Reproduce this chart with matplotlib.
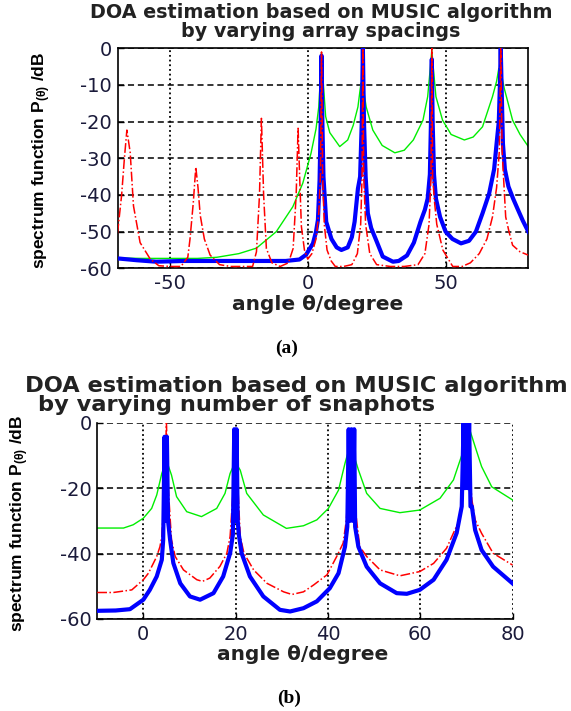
import matplotlib
matplotlib.use('Agg')
import matplotlib.pyplot as plt

# ---- (a) varying array spacings ----
a_green_x = [-69, -60, -50, -40, -33, -25, -18.6, -11.4, -5.4, -1.8, 1.2, 3.0, 4.0, 4.6, 5.0, 5.5, 6.5, 8.0,
             11.6, 14.5, 16.5, 18.2, 19.3, 20.2, 21.2, 23.6, 27, 31.6, 35, 38.3, 41.8, 43.5, 44.5, 45.0, 45.5,
             46.5, 48.9, 52, 56.8, 60, 63.4, 67.0, 68.5, 69.3, 70.5, 71.3, 74.3, 77, 80]
a_green_y = [-57.2, -57.3, -57.3, -57.3, -57.0, -56.0, -54.5, -50.0, -43.2, -36.8, -28.6, -22, -16, -8, -1.2,
             -8, -18.6, -23, -26.8, -25, -21, -16, -9.5, -11, -16, -22.3, -26.5, -28.5, -27.8, -25, -19.6,
             -13.2, -5, -0.5, -5, -13.2, -19.6, -23.5, -25, -24.2, -21.4, -13.2, -9, -5.5, -8, -11, -19.6,
             -23.5, -26.8]

a_blue_x = [-69, -62, -55, -45, -35, -25, -15, -8, -3, -0.6, 1.9, 3.0, 3.7, 4.3, 4.7, 5.0, 5.3, 5.7, 6.7,
            8.6, 10.5, 12.2, 14.5, 16.0, 17.0, 18.2, 19.0, 19.6, 20.0, 20.4, 21.0, 21.8, 23.0, 24.8, 27.2,
            30.9, 33, 36, 38.5, 40.9, 42.5, 43.5, 44.3, 44.7, 45.0, 45.3, 45.8, 46.5, 48, 50, 52.5, 55.6,
            58.5, 61, 63.4, 65.8, 67.6, 68.5, 69.3, 69.7, 70.0, 70.3, 70.8, 71.5, 72.8, 74.5, 76.0, 78, 80]
a_blue_y = [-57.3, -57.8, -58.2, -58.0, -58.0, -58.0, -58.0, -58.0, -57.6, -56.3, -53.2, -50, -46.8, -35.9,
            -20, -2, -20, -35, -47.3, -52, -54.3, -55, -54.3, -51.5, -47.3, -38.3, -35, -20, 0, -20, -35,
            -45, -49, -52.3, -56.8, -58.2, -58, -56.5, -53, -47.3, -44, -41, -34.4, -20, -3, -20, -34.4,
            -41, -46, -50, -52, -53.2, -52.5, -50, -45, -39.6, -33, -26, -20, -10, 0, -10, -26, -33, -37.7,
            -41, -43.6, -47, -50]

a_red_x = [-69, -67.5, -66.5, -65.6, -64.4, -63.2, -60.8, -57.1, -54, -50, -46, -43.5, -42.7, -41.5, -40.6,
           -39.8, -39, -37.5, -35.4, -32, -28, -24, -20, -18.6, -17.5, -16.8, -16, -15, -13, -10, -7, -5.3,
           -4.2, -3.5, -2.8, -2.3, -1.2, 0, 1.5, 3.0, 4.0, 4.6, 5.0, 5.4, 6.0, 7.0, 8.5, 10, 13, 16, 18,
           19.2, 19.7, 20.0, 20.3, 21, 22.5, 25, 30, 35, 40, 42.5, 44, 44.7, 45.0, 45.3, 46, 46.8, 49, 52.6,
           56, 59, 62.2, 65, 67.0, 68.5, 69.5, 70, 70.5, 71.8, 73, 74.3, 77, 80]
a_red_y = [-50.5, -40, -30, -22.3, -28.4, -43, -53, -57.5, -59.3, -59.5, -59.5, -57, -52, -42, -32.4, -38,
           -45.5, -52, -56.4, -59, -59.5, -59.5, -59.5, -55.5, -40, -19.1, -40, -54.6, -58.5, -59.5, -58.5,
           -54.6, -40, -21.8, -38, -48.6, -55, -57.5, -56, -52, -45, -35, -1, -35, -48, -55, -58, -59.5,
           -59.5, -59, -56, -48, -35, 0, -35, -48, -56, -59, -59.5, -59.5, -59, -56, -48, -35, 0, -35, -42,
           -48, -55, -59.5, -59.5, -58.5, -56, -52, -46, -38, -28, 0, -28, -46, -50, -53.7, -55.5, -56.4]

# ---- (b) varying number of snapshots ----
b_green_x = [-10, -7, -4.3, -2.2, 0, 1.8, 2.9, 4.0, 5.0, 6.1, 7.2, 9.4, 12.6, 15.9, 17.7, 18.8, 19.9, 21.0,
             22.4, 26, 31, 34.7, 37.6, 40.1, 42.3, 43.7, 44.8, 45.5, 46.6, 48.4, 51.3, 55.6, 59.9, 64.3,
             67.2, 69.4, 70.3, 71.9, 73.3, 75.5, 80]
b_green_y = [-32.2, -32.2, -32.2, -31.2, -29.2, -26.2, -22.1, -15.5, -11.5, -16, -22.6, -27.2, -28.7, -26.2,
             -21.6, -15.5, -12, -14.5, -21.6, -28.2, -32.3, -31.5, -29.7, -26.2, -20.6, -12.4, -6.8, -9.4,
             -14.4, -21.6, -26.2, -27.5, -26.7, -23.1, -17.5, -8.3, -0.2, -7.3, -13.4, -19.6, -23.6]

b_blue_x = [-10, -6, -2.9, 0, 1.4, 2.9, 4.0, 4.3, 4.6, 4.85, 5.1, 5.35, 5.8, 6.5, 8.0, 10.1, 12.3, 15.2,
            17.3, 18.8, 19.4, 19.7, 19.95, 20.2, 20.45, 20.7, 21.3, 23.1, 26, 29.6, 31.8, 34.7, 37.6, 40.4,
            42.3, 43.7, 44.2, 44.5, 44.8, 45.1, 45.4, 45.7, 45.9, 46.6, 48.4, 51.3, 54.9, 57.1, 59.9, 62.9,
            65.7, 67.9, 69.0, 69.4, 69.7, 70.0, 70.3, 70.6, 70.9, 71.2, 71.9, 73.3, 75.8, 80]
b_blue_y = [-57.5, -57.4, -57, -54.1, -51.1, -47, -41.9, -35.8, -4.3, -30, -4.3, -30, -35.8, -42.9, -49.1,
            -53.1, -54.1, -52.1, -47, -39.9, -34.3, -2, -30, -2, -30, -34.3, -39.9, -47, -53.1, -57.2,
            -57.7, -56.7, -54.6, -50.6, -46, -37.9, -31.8, -2, -30, -2, -30, -2, -31.8, -37.9, -44, -49.1,
            -52.1, -52.3, -51.1, -48, -41.9, -33.7, -25.6, 0, -20, 0, -20, 0, -25.6, -25.6, -32.8, -38.9,
            -44, -49.1]

b_red_x = [-10, -6.5, -2.5, 0, 1.1, 2.9, 3.6, 4.0, 4.6, 5.0, 5.4, 6.1, 6.9, 8.7, 11.6, 12.8, 14.4, 16.6,
           18.1, 18.8, 19.5, 20.0, 20.5, 21.0, 21.8, 23.9, 26.8, 30.4, 32.2, 34.7, 36.9, 39.8, 41.9, 43.3,
           44.0, 44.6, 45.0, 45.4, 46.2, 46.9, 48.4, 51.3, 55.6, 59.9, 62.9, 65.7, 67.5, 68.6, 69.0, 69.6,
           70.0, 70.4, 71.2, 71.9, 73.3, 75.8, 80]
b_red_y = [-51.9, -51.9, -51.1, -48, -46, -40.9, -37.9, -34.8, -20, 0, -20, -35.8, -40.9, -45, -48, -48.5,
           -47.5, -43.9, -39.9, -34.8, -20, -1.5, -20, -34.8, -39.9, -45, -49.1, -51.7, -52.5, -51.7, -49.6,
           -46.5, -40.9, -36.8, -29.7, -15, -2, -15, -29.7, -37.9, -40.9, -45, -46.8, -45.5, -43, -38.4,
           -32.8, -29.7, -23.6, -10, 0, -10, -23.6, -29.7, -33.8, -39.9, -43.5]

a_xticks = [-50, 0, 50]
a_yticks = [0, -10, -20, -30, -40, -50, -60]
b_xticks = [0, 20, 40, 60, 80]
b_yticks = [0, -20, -40, -60]

W, H = 571, 711
plt.rcParams['font.family'] = 'DejaVu Sans'
plt.rcParams['axes.unicode_minus'] = False
plt.rcParams['mathtext.fontset'] = 'custom'
plt.rcParams['mathtext.rm'] = 'Liberation Sans:bold'
plt.rcParams['mathtext.it'] = 'Liberation Sans:bold'
plt.rcParams['mathtext.bf'] = 'Liberation Sans:bold'
fig = plt.figure(figsize=(W / 100, H / 100), dpi=100)


def box(l, t, r, b):
    return [l / W, 1 - b / H, (r - l) / W, (b - t) / H]


def fx(x):
    return x / W


def fy(y):
    return 1 - y / H


def style(ax, xlim, xticks, yticks):
    ax.set_xlim(xlim)
    ax.set_ylim(-60, 0)
    ax.set_xticks(xticks)
    ax.set_yticks(yticks)
    ax.tick_params(direction='in', length=4, width=1, labelsize=14, pad=4, colors='k',
                   labelcolor='#1a1a3a')
    for v in xticks:
        ax.axvline(v, color='k', lw=1.3, ls=(0, (1, 1.6)), zorder=1)
    for v in yticks:
        ax.axhline(v, color='k', lw=1.1, ls=(0, (4, 2.5)), zorder=1)


ylab = 'spectrum function P$_{(\\theta)}$ /dB'
ylab_font = dict(rotation=90, ha='center', va='center', fontsize=12.5, fontweight='bold',
                 family=['Liberation Sans', 'DejaVu Sans'])

# (a)
ax1 = fig.add_axes(box(117.5, 48.3, 528.3, 268.3))
style(ax1, (-69, 80), a_xticks, a_yticks)
ax1.plot(a_green_x, a_green_y, color='#00ee00', lw=1.0, zorder=2)
ax1.plot(a_blue_x, a_blue_y, color='#0000ff', lw=3.0, zorder=3)
ax1.plot(a_red_x, a_red_y, color='#ff0000', lw=1.1, ls='-.', zorder=4)
for s in ax1.spines.values():
    s.set_linewidth(1.2)

fig.text(fx(321), fy(22), 'DOA estimation based on MUSIC algorithm\nby varying array spacings',
         ha='center', va='center', fontsize=13.8, fontweight='bold', linespacing=1.0, color='#222222')
fig.text(fx(42), fy(160), ylab, **ylab_font)
fig.text(fx(318), fy(305), 'angle θ/degree', ha='center', va='center', fontsize=14.5, fontweight='bold',
         color='#222222')
fig.text(fx(287), fy(348), '(a)', ha='center', va='center', fontsize=14, fontweight='bold',
         family='Liberation Serif')

# (b)
ax2 = fig.add_axes(box(97.2, 422.7, 512.5, 619))
style(ax2, (-10, 80), b_xticks, b_yticks)
ax2.plot(b_green_x, b_green_y, color='#00ee00', lw=1.0, zorder=2)
ax2.plot(b_red_x, b_red_y, color='#ff0000', lw=1.1, ls='-.', zorder=3)
ax2.plot(b_blue_x, b_blue_y, color='#0000ff', lw=3.0, zorder=4)
ax2.spines['top'].set_visible(False)
ax2.spines['right'].set_visible(False)
ax2.spines['left'].set_linewidth(1.2)
ax2.spines['bottom'].set_linewidth(1.2)

fig.text(fx(296), fy(386), 'DOA estimation based on MUSIC algorithm', ha='center', va='center',
         fontsize=16.2, fontweight='bold', color='#222222')
fig.text(fx(38), fy(405), 'by varying number of snaphots', ha='left', va='center',
         fontsize=16.2, fontweight='bold', color='#222222')
fig.text(fx(20), fy(523), ylab, **ylab_font)
fig.text(fx(303), fy(655), 'angle θ/degree', ha='center', va='center', fontsize=14.5, fontweight='bold',
         color='#222222')
fig.text(fx(289), fy(698), '(b)', ha='center', va='center', fontsize=14, fontweight='bold',
         family='Liberation Serif')

fig.savefig('out.png', dpi=100)
